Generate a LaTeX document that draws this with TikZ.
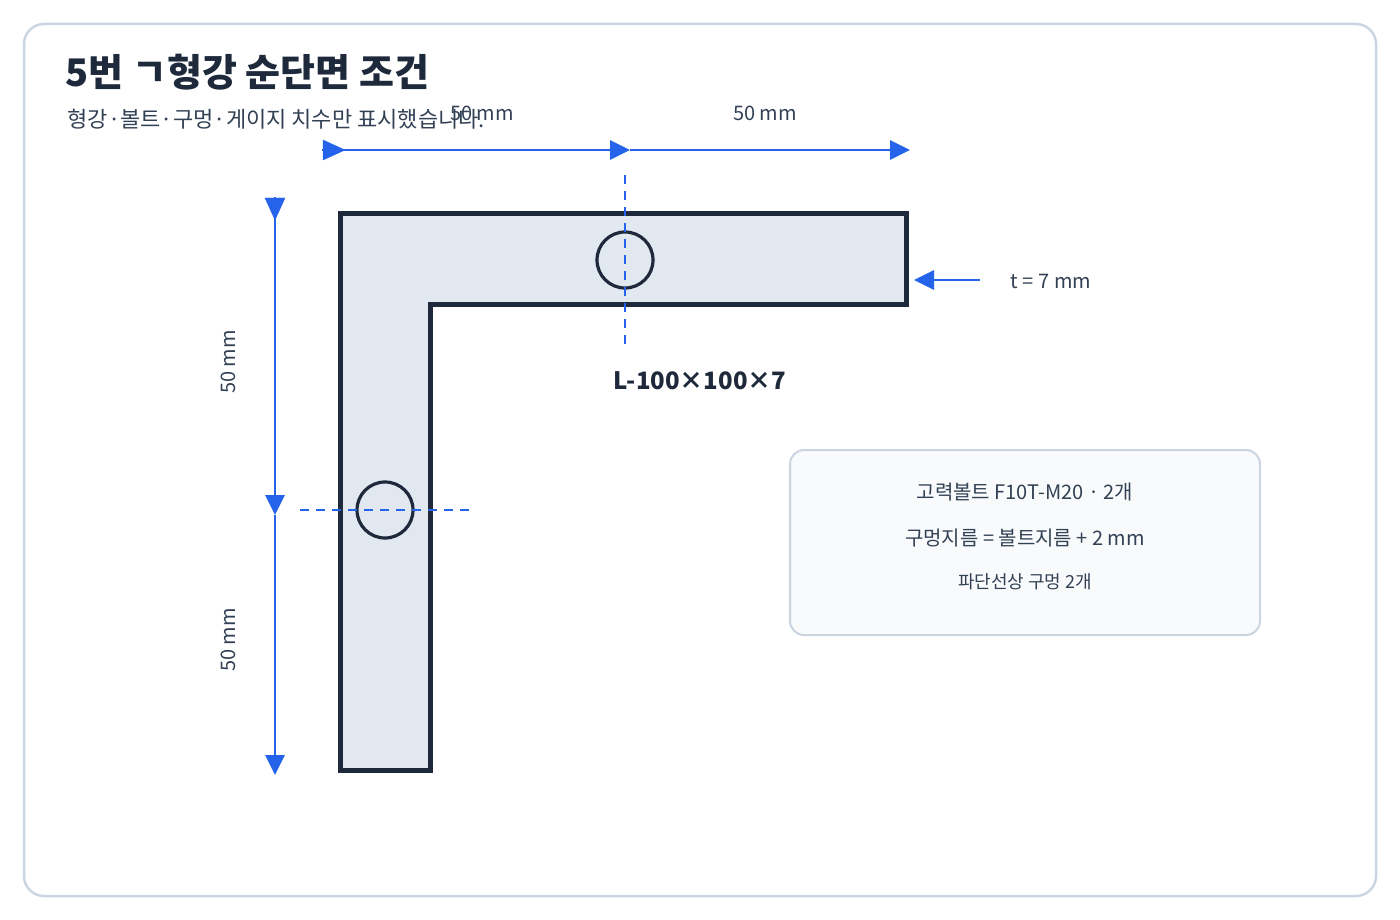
\documentclass[tikz,border=0pt]{standalone}
\usepackage{fontspec}
\setmainfont{Noto Sans CJK KR}
\usetikzlibrary{arrows.meta}
\definecolor{dimblue}{HTML}{2563EB}
\definecolor{steel}{HTML}{1E293B}
\definecolor{steelfill}{HTML}{E2E8F0}
\definecolor{frame}{HTML}{CBD5E1}
\definecolor{boxfill}{HTML}{F8FAFC}
\definecolor{txt}{HTML}{334155}
\tikzset{
  dim/.style={draw=dimblue, line width=2.8pt, -{Triangle[length=20pt,width=19pt]}},
  cut/.style={draw=dimblue, line width=2.6pt, dash pattern=on 9pt off 7pt},
  dimtext/.style={text=txt, font=\fontsize{20}{24}\selectfont},
  hole/.style={circle, draw=steel, line width=3.2pt, minimum size=56pt, inner sep=0pt},
}
\begin{document}
\begin{tikzpicture}[x=1pt, y=-1pt]
  \useasboundingbox (0,0) rectangle (1400,920);
  \draw[frame, line width=2.5pt, rounded corners=20pt] (24,24) rectangle (1376,896);

  \node[anchor=west, font=\bfseries\fontsize{38}{44}\selectfont, text=steel] (title) at (62,72) {5번 ㄱ형강 순단면 조건};
  \node[anchor=west, font=\fontsize{22}{26}\selectfont, text=txt] (sub) at (64,119) {형강·볼트·구멍·게이지 치수만 표시했습니다.};

  % angle section
  \filldraw[fill=steelfill, draw=steel, line width=5pt]
    (340,214) -- (906,214) -- (906,304) -- (430,304) -- (430,770) -- (340,770) -- cycle;
  \node[hole] (h1) at (625,260) {};
  \node[hole] (h2) at (385,510) {};
  \coordinate (g1a) at (625,175); \coordinate (g1b) at (625,345);
  \coordinate (g2a) at (300,510); \coordinate (g2b) at (470,510);
  \draw[cut] (g1a) -- (g1b);
  \draw[cut] (g2a) -- (g2b);
  \node[font=\bfseries\fontsize{24}{28}\selectfont, text=steel] (name) at (700,381) {L-100×100×7};

  % dimensions
  \coordinate (t0) at (322,150); \coordinate (t1) at (630,150); \coordinate (t2) at (910,150);
  \draw[dim] (t0) -- (t1);
  \draw[dim] (t1) -- (t2);
  \draw[dimblue, fill=dimblue] (323,140) -- (345,150) -- (323,160) -- cycle;
  \node[dimtext] (lt1) at (482,113) {50 mm};
  \node[dimtext] (lt2) at (765,113) {50 mm};

  \coordinate (l0) at (275,197); \coordinate (l1) at (275,515); \coordinate (l2) at (275,775);
  \draw[dim] (l0) -- (l1);
  \draw[dim] (l1) -- (l2);
  \draw[dimblue, fill=dimblue] (265,198) -- (275,220) -- (285,198) -- cycle;
  \node[dimtext, rotate=90] (ll1) at (228,362) {50 mm};
  \node[dimtext, rotate=90] (ll2) at (228,640) {50 mm};

  \coordinate (ta) at (980,280); \coordinate (tb) at (914,280);
  \draw[dim] (ta) -- (tb);
  \node[dimtext] (tlab) at (1051,281) {t = 7 mm};

  % bolt note
  \node[draw=frame, fill=boxfill, line width=2pt, rounded corners=14pt, minimum width=470pt, minimum height=185pt] (note) at (1025,542.5) {};
  \node[dimtext] (n1) at (1025,492) {고력볼트 F10T-M20 · 2개};
  \node[dimtext] (n2) at (1025,538) {구멍지름 = 볼트지름 + 2 mm};
  \node[text=txt, font=\fontsize{18}{22}\selectfont] (n3) at (1025,582) {파단선상 구멍 2개};
\end{tikzpicture}
\end{document}
